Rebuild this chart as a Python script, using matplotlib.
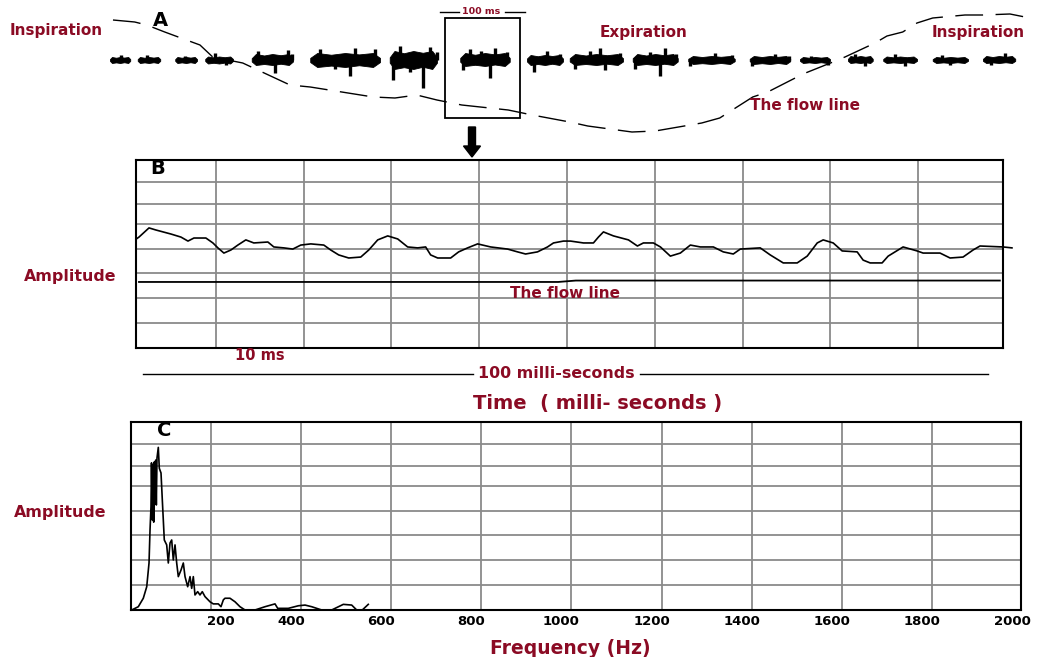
import matplotlib
matplotlib.use("Agg")
import matplotlib.pyplot as plt
from matplotlib.patches import Rectangle
import matplotlib.transforms as mtransforms

# ---------------- DATA ----------------
# Panel A: respiratory flow line (time in ms, flow in arbitrary units)
flow_a_t = [4, 33, 49, 73, 91, 120, 137, 177, 197, 240, 267, 351, 380, 409, 436, 469, 531,
            563, 613, 637, 696, 727, 789, 813, 857, 877, 911, 924, 964, 980, 1020, 1036,
            1057, 1076, 1097, 1140, 1164, 1200, 1220]
flow_a_v = [40, 38, 35, 28, 23, 15, 3, -3, -10, -25, -27, -37, -38, -35, -40, -45, -50,
            -55, -62, -66, -72, -71, -63, -58, -37, -32, -19, -14, -2, 3, 17, 24,
            28, 37, 42, 45, 45, 46, 43]

# Panel A: sound bursts (start/end in ms, band half heights)
burst_start = [0, 37, 87, 127, 189, 267, 373, 467, 556, 613, 697, 771, 853, 920, 984, 1031, 1097, 1164]
burst_end = [27, 67, 116, 164, 244, 360, 436, 533, 604, 684, 757, 833, 907, 960, 1017, 1076, 1144, 1207]
burst_up = [3, 3, 3, 3.5, 6, 7, 9, 7, 5, 6, 6, 4, 4, 3, 4, 3.5, 3, 4]
burst_down = [3, 3, 3, 3.5, 5, 7, 9, 6, 5, 5, 5, 4, 4, 3, 3, 3, 3, 3]
spike_t = [15, 50, 100, 140, 155, 197, 220, 237, 243, 280, 300, 320, 327, 353,
           377, 387, 400, 417, 427, 436, 471, 480, 495, 507, 513, 530, 566, 583, 600,
           620, 640, 653, 660, 680, 700, 720, 733, 740, 755, 773, 807, 830, 856, 887, 905,
           935, 957, 993, 1007, 1047, 1060, 1110, 1120, 1175, 1193]
spike_v = [5, 5, 4, 7, -5, 9, -13, 10, 6, 11, -9, -16, 12, 11,
           -20, 14, -12, -28, 13, 8, -10, 11, 9, -18, 12, 8, -12, 9, 6,
           -9, 9, 12, -10, 7, -9, 8, -16, 12, 6, -6, 7, 5, -6, 6, 4,
           4, -5, 6, -6, 6, -6, 5, -5, -5, 7]

# Panel B: 100 ms segment
b_time = [0.91, 1.25, 2.39, 3.19, 4.89, 6.03, 6.83, 7.51, 8.87, 9.67, 10.24, 10.92, 11.72,
          12.51, 13.42, 14.33, 15.93, 16.61, 17.75, 18.77, 19.68, 20.82, 22.30, 23.09, 24.0,
          25.14, 26.51, 27.42, 28.44, 29.58, 30.72, 31.85, 32.99, 33.9, 34.47, 35.27, 36.75,
          37.66, 38.68, 39.82, 41.3, 43.23, 44.37, 45.28, 46.64, 47.78, 48.46, 49.6, 50.4,
          51.88, 53.01, 53.58, 54.15, 55.29, 57.0, 58.02, 58.7, 59.84, 60.64, 61.77, 62.91,
          64.05, 65.19, 66.67, 67.8, 68.94, 69.74, 72.01, 73.15, 74.63, 76.22, 77.36, 78.5,
          79.18, 80.32, 81.34, 83.05, 83.73, 84.53, 85.89, 86.58, 88.28, 89.88, 90.56, 92.49,
          93.63, 95.11, 96.25, 97.04, 99.66, 100.68]
b_amp = [4.63, 4.72, 5.11, 5.02, 4.85, 4.72, 4.55, 4.68, 4.68, 4.47, 4.26, 4.04, 4.17,
         4.38, 4.60, 4.47, 4.51, 4.30, 4.26, 4.21, 4.38, 4.43, 4.38, 4.17, 3.96,
         3.83, 3.87, 4.17, 4.60, 4.77, 4.64, 4.30, 4.26, 4.30, 3.96, 3.83, 3.83,
         4.09, 4.26, 4.43, 4.30, 4.21, 4.09, 4.00, 4.09, 4.30, 4.47, 4.55, 4.55,
         4.47, 4.47, 4.72, 4.94, 4.77, 4.60, 4.34, 4.47, 4.47, 4.30, 3.91, 4.04,
         4.38, 4.30, 4.30, 4.09, 4.00, 4.21, 4.26, 3.96, 3.62, 3.62, 3.91, 4.47,
         4.60, 4.47, 4.13, 4.09, 3.74, 3.62, 3.62, 3.91, 4.30, 4.13, 4.04, 4.04,
         3.83, 3.87, 4.17, 4.34, 4.30, 4.26]
b_flow_t = [1.25, 49.0, 51.0, 99.3]
b_flow_amp = [2.81, 2.81, 2.87, 2.87]

# Panel C: spectrum
c_freq = [24, 38.6, 49.7, 57.3, 62.4, 64.6, 66.8, 67.9, 69.7, 71.2, 72.8, 74.1, 75.7, 77.2,
          78.6, 80.1, 83, 85.2, 89, 91.9, 96.3, 101.6, 105.2, 109, 112.7, 116.3, 120.1,
          123.8, 127.4, 133.4, 138.5, 142.3, 148.2, 153.4, 157.1, 160.7, 164.4, 170.4,
          175.5, 180.6, 186.6, 197.7, 205, 216.2, 222.1, 227.3, 231, 242.1, 253.2, 264.3,
          275.4, 297.6, 319.8, 342, 348, 371.5, 393.7, 408.6, 423.4, 445.6, 467.8, 493.6,
          512.2, 523.3, 535.7, 549]
c_amp = [0, 0.14, 0.5, 0.99, 2.0, 3.4, 4.4, 6.26, 3.83, 6.17, 3.74, 6.3, 4.68, 6.38,
         4.47, 6.47, 6.92, 6.03, 5.83, 4.68, 2.98, 2.77, 2.0, 2.85, 2.98, 2.13, 2.77,
         2.0, 1.42, 1.70, 2.0, 1.42, 0.99, 1.42, 0.92, 1.42, 0.64, 0.78,
         0.64, 0.78, 0.57, 0.35, 0.26, 0.26, 0.14, 0.43, 0.5, 0.5, 0.35, 0.14,
         0, 0, 0.14, 0.26, 0.07, 0.07, 0.18, 0.21, 0.14, 0, 0, 0.24,
         0.21, 0, 0, 0.24]
c_xticks = [200, 400, 600, 800, 1000, 1200, 1400, 1600, 1800, 2000]
c_xticklabels = ["200", "400", "600", "800", "1000", "1200", "1400", "1600", "1800", "2000"]
grid_levels = [1.07, 2.12, 3.18, 4.22, 5.27, 6.14, 7.08]
b_xgrid = [10, 20, 30, 40, 50, 60, 70, 80, 90]

# ---------------- STYLE ----------------
W, H = 1037, 657
RED = "#8b0b24"
GRID = "#8a8a8a"
FONT = "DejaVu Sans"

fig = plt.figure(figsize=(W / 100, H / 100), dpi=100)
fig.patch.set_facecolor("white")


def rect(x0, y0, x1, y1):
    return [x0 / W, 1 - y1 / H, (x1 - x0) / W, (y1 - y0) / H]


# ---------- Panel A ----------
axA = fig.add_axes(rect(100, 0, 1030, 150))
axA.set_xlim(-13.3, 1226.7)
axA.set_ylim(-90, 60)
axA.axis("off")
axA.plot(flow_a_t, flow_a_v, color="black", lw=1.0, dashes=(20, 9))
for t0, t1, up, dn in zip(burst_start, burst_end, burst_up, burst_down):
    w = t1 - t0
    xs = [t0, t0 + 0.1 * w, t0 + 0.3 * w, t0 + 0.5 * w, t0 + 0.7 * w, t1 - 0.1 * w, t1]
    top = [0.3 * up, up, 0.75 * up, up, 0.8 * up, up, 0.3 * up]
    bot = [-0.3 * dn, -dn, -0.8 * dn, -dn, -0.75 * dn, -dn, -0.3 * dn]
    axA.fill_between(xs, bot, top, color="black", lw=0.6)
axA.vlines(spike_t, 0, spike_v, color="black", lw=2.4)
axA.add_patch(Rectangle((447, -58), 100, 100, fill=False, ec="black", lw=1.3))
axA.plot([440, 466], [48, 48], color="black", lw=1.0)
axA.plot([527, 553], [48, 48], color="black", lw=1.0)

# ---------- Panel B ----------
axB = fig.add_axes(rect(136, 160, 1003, 348))
axB.set_xlim(0.91, 99.66)
axB.set_ylim(0, 8)
axB.set_xticks(b_xgrid)
axB.set_yticks(grid_levels)
axB.grid(True, color=GRID, lw=1.3)
axB.tick_params(length=0, labelbottom=False, labelleft=False)
for s in axB.spines.values():
    s.set_color("black")
    s.set_linewidth(1.5)
axB.plot(b_flow_t, b_flow_amp, color="black", lw=1.3)
axB.plot(b_time, b_amp, color="black", lw=1.2, clip_on=False)

# ---------- Panel C ----------
axC = fig.add_axes(rect(131, 422, 1021, 610))
axC.set_xlim(22.4, 1997.6)
axC.set_ylim(0, 8)
axC.set_xticks(c_xticks[:-1])
axC.set_yticks(grid_levels)
axC.grid(True, color=GRID, lw=1.3)
axC.tick_params(length=0, labelbottom=False, labelleft=False)
for s in axC.spines.values():
    s.set_color("black")
    s.set_linewidth(1.5)
axC.plot(c_freq, c_amp, color="black", lw=1.2)
for i, (v, lab) in enumerate(zip(c_xticks, c_xticklabels)):
    dx = 10 if i == 0 else -10
    tr = axC.get_xaxis_transform() + mtransforms.ScaledTranslation(dx / 100, 0, fig.dpi_scale_trans)
    axC.text(v, -0.025, lab, transform=tr, ha="center", va="top",
             fontsize=9.5, fontweight="bold", family=FONT, color="black")

# ---------- Overlay annotations ----------
ov = fig.add_axes([0, 0, 1, 1])
ov.set_xlim(0, W)
ov.set_ylim(H, 0)
ov.axis("off")
ov.patch.set_visible(False)


def txt(x, y, s, size=11, color=RED, ha="center", **kw):
    ov.text(x, y, s, fontsize=size, color=color, ha=ha, va="center",
            fontweight="bold", family=FONT, **kw)


txt(10, 30, "Inspiration", ha="left")
txt(160, 20, "A", size=14, color="black")
txt(481, 12, "100 ms", size=6.8)
txt(644, 33, "Expiration")
txt(932, 33, "Inspiration", ha="left")
txt(750, 105, "The flow line", ha="left")
ov.arrow(472, 127, 0, 30, width=7, head_width=17, head_length=11,
         length_includes_head=True, color="black")

txt(158, 169, "B", size=14, color="black")
txt(70, 277, "Amplitude", size=11.4)
txt(510, 293, "The flow line", ha="left")
txt(260, 356, "10 ms", size=10.5)
ov.plot([143, 473], [374, 374], color="black", lw=1.0)
txt(556, 374, "100 milli-seconds", size=11.4)
ov.plot([640, 988], [374, 374], color="black", lw=1.0)
txt(598, 404, "Time  ( milli- seconds )", size=14)

txt(164, 431, "C", size=14, color="black")
txt(60, 513, "Amplitude", size=11.4)
txt(570, 648, "Frequency (Hz)", size=13.5)

fig.savefig("out.png", dpi=100, facecolor="white")
